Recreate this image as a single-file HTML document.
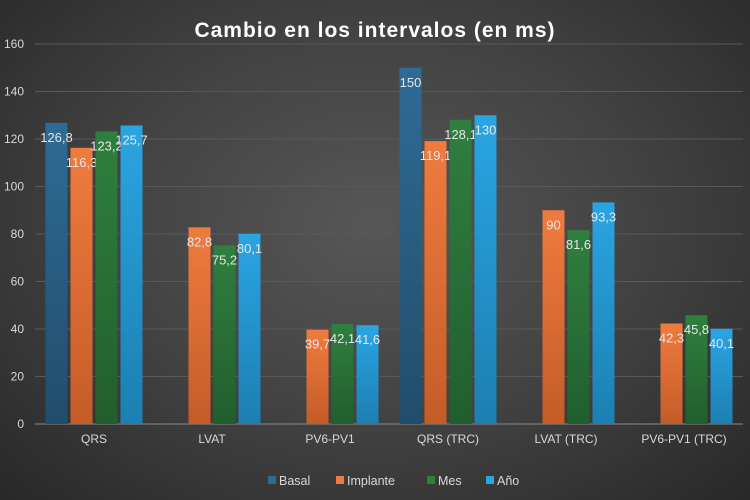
<!DOCTYPE html>
<html><head><meta charset="utf-8"><style>
html,body{margin:0;width:750px;height:500px;overflow:hidden;font-family:"Liberation Sans",sans-serif;background:#2a2a2a}
#c{width:750px;height:500px;background:radial-gradient(ellipse at 50% 45%,#575757 0%,#404040 55%,#282828 100%)}
svg{display:block}
</style></head><body>
<div id="c">
<svg id="s" width="750" height="500"></svg>
</div>
<script>
const categories=["QRS","LVAT","PV6-PV1","QRS (TRC)","LVAT (TRC)","PV6-PV1 (TRC)"];
const seriesNames=["Basal","Implante","Mes","Año"];
const basal=[126.8,null,null,150,null,null];
const implante=[116.3,82.8,39.7,119.1,90,42.3];
const mes=[123.2,75.2,42.1,128.1,81.6,45.8];
const anio=[125.7,80.1,41.6,130,93.3,40.1];
const yTicks=[0,20,40,60,80,100,120,140,160];
const colors=["#2f6b96","#f07b3f","#2f7f3f","#2aa5e2"];
const darks=["#214d6c","#c45c28","#225e2e","#1c7fb2"];

const NS="http://www.w3.org/2000/svg";
const svg=document.getElementById('s');
const x0=35,x1=743,yBase=424,yTop=44,yMax=160;
const y=v=>yBase-(v/yMax)*(yBase-yTop);
const catW=(x1-x0)/categories.length;
const xCat=i=>x0+catW*i+catW/2;
function mk(t,a,txt){const e=document.createElementNS(NS,t);for(const k in a)e.setAttribute(k,a[k]);if(txt!==undefined)e.textContent=txt;svg.appendChild(e);return e;}
const defs=mk('defs',{});
colors.forEach((c,i)=>{const g=document.createElementNS(NS,'linearGradient');g.setAttribute('id','g'+i);g.setAttribute('x1','0');g.setAttribute('y1','0');g.setAttribute('x2','0');g.setAttribute('y2','1');
g.innerHTML=`<stop offset="0" stop-color="${c}"/><stop offset="1" stop-color="${darks[i]}"/>`;defs.appendChild(g);});

const t=mk('text',{x:375,y:37,'text-anchor':'middle','font-size':'21','font-weight':'bold',fill:'#ffffff','letter-spacing':'1'},'Cambio en los intervalos (en ms)');


yTicks.forEach(v=>{
 const l=mk('line',{x1:x0,x2:x1,y1:y(v),y2:y(v),stroke:v===0?'#8a8a8a':'#595959','stroke-width':1});
 
 const tx=mk('text',{x:24,y:y(v)+4,'text-anchor':'end','font-size':'12',fill:'#d8d8d8'},String(v));
 
});
const all=[basal,implante,mes,anio];
const bw=22,step=25;
categories.forEach((c,i)=>{
 const cx=xCat(i);
 const tl=mk('text',{x:cx,y:443,'text-anchor':'middle','font-size':'12',fill:'#d8d8d8'},c);
 
 all.forEach((s,j)=>{
  const v=s[i]; if(v==null) return;
  const bx=cx-2*step+j*step+1.5;
  const r=mk('rect',{x:bx,y:y(v),width:bw,height:yBase-y(v),fill:`url(#g${j})`});
  
  const lb=mk('text',{x:bx+bw/2,y:y(v)+19,'text-anchor':'middle','font-size':'13',fill:'#e6e6e6'},String(v).replace('.',','));
  
 });
});
const legX=[268,336,427,486];
seriesNames.forEach((n,j)=>{
 const r=mk('rect',{x:legX[j],y:476,width:8,height:8,fill:colors[j]});
 
 const tx=mk('text',{x:legX[j]+11,y:485,'font-size':'12.5',fill:'#d8d8d8'},n);
 
});
</script>
</body></html>
